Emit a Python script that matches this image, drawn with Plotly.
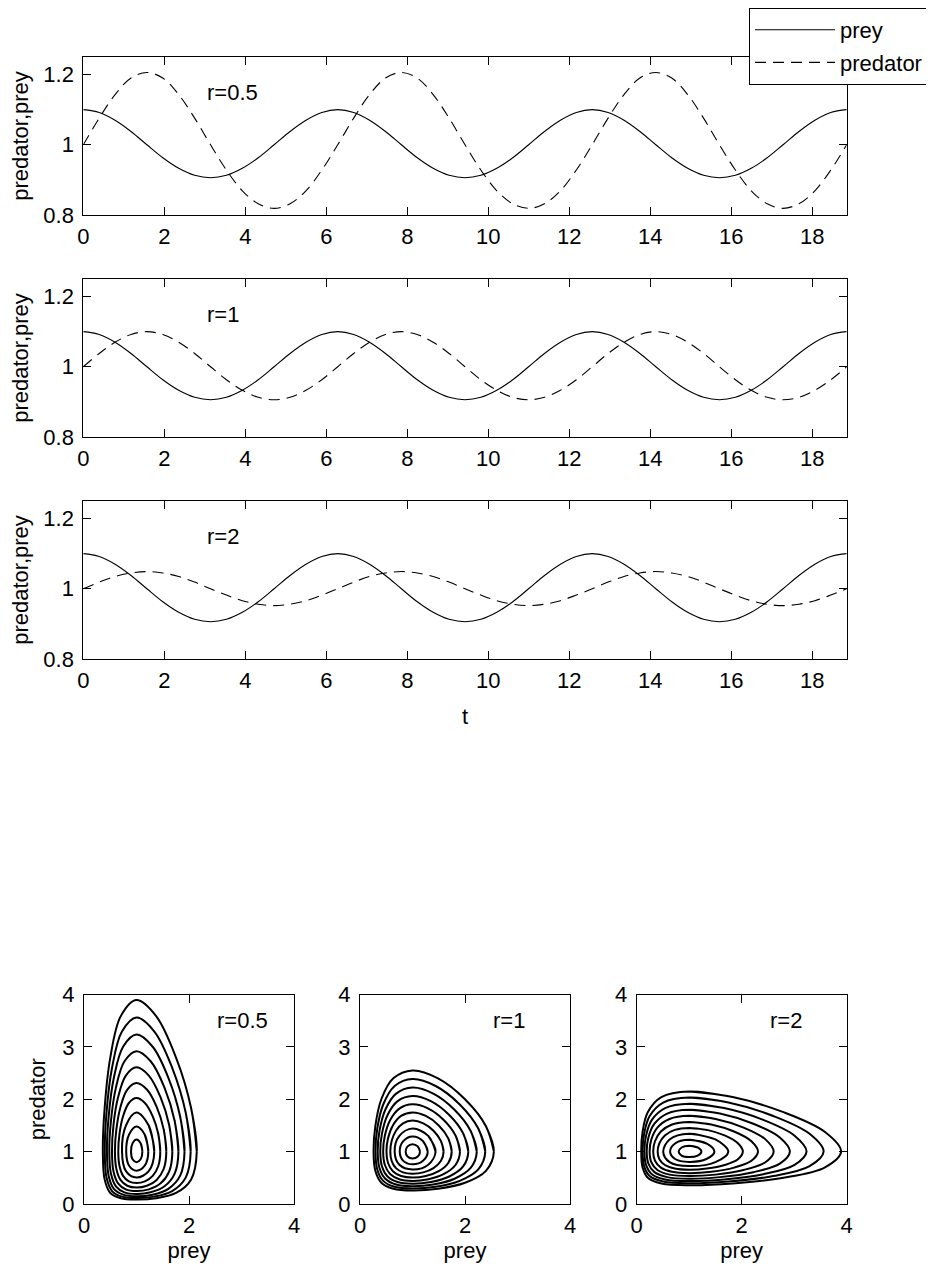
import plotly.graph_objects as go

# ---------------- time series ----------------
t = [0.000, 0.393, 0.785, 1.178, 1.571, 1.963, 2.356, 2.749, 3.142, 3.534, 3.927, 4.320,
     4.712, 5.105, 5.498, 5.890, 6.283, 6.676, 7.069, 7.461, 7.854, 8.247, 8.639, 9.032,
     9.425, 9.817, 10.210, 10.603, 10.996, 11.388, 11.781, 12.174, 12.566, 12.959, 13.352,
     13.744, 14.137, 14.530, 14.923, 15.315, 15.708, 16.101, 16.493, 16.886, 17.279,
     17.671, 18.064, 18.457, 18.850]

prey = [1.100, 1.092, 1.070, 1.038, 1.000, 0.963, 0.933, 0.913, 0.906, 0.913, 0.933, 0.963,
        1.000, 1.038, 1.070, 1.092, 1.100, 1.092, 1.070, 1.038, 1.000, 0.963, 0.933, 0.913,
        0.906, 0.913, 0.933, 0.963, 1.000, 1.038, 1.070, 1.092, 1.100, 1.092, 1.070, 1.038,
        1.000, 0.963, 0.933, 0.913, 0.906, 0.913, 0.933, 0.963, 1.000, 1.038, 1.070, 1.092,
        1.100]

predator_r05 = [1.000, 1.076, 1.143, 1.190, 1.206, 1.190, 1.143, 1.076, 1.000, 0.928, 0.869,
                0.832, 0.819, 0.832, 0.869, 0.928, 1.000, 1.076, 1.143, 1.190, 1.206, 1.190,
                1.143, 1.076, 1.000, 0.928, 0.869, 0.832, 0.819, 0.832, 0.869, 0.928, 1.000,
                1.076, 1.143, 1.190, 1.206, 1.190, 1.143, 1.076, 1.000, 0.928, 0.869, 0.832,
                0.819, 0.832, 0.869, 0.928, 1.000]

predator_r1 = [1.000, 1.038, 1.070, 1.092, 1.100, 1.092, 1.070, 1.038, 1.000, 0.963, 0.933,
               0.913, 0.906, 0.913, 0.933, 0.963, 1.000, 1.038, 1.070, 1.092, 1.100, 1.092,
               1.070, 1.038, 1.000, 0.963, 0.933, 0.913, 0.906, 0.913, 0.933, 0.963, 1.000,
               1.038, 1.070, 1.092, 1.100, 1.092, 1.070, 1.038, 1.000, 0.963, 0.933, 0.913,
               0.906, 0.913, 0.933, 0.963, 1.000]

predator_r2 = [1.000, 1.019, 1.035, 1.045, 1.049, 1.045, 1.035, 1.019, 1.000, 0.982, 0.966,
               0.956, 0.952, 0.956, 0.966, 0.982, 1.000, 1.019, 1.035, 1.045, 1.049, 1.045,
               1.035, 1.019, 1.000, 0.982, 0.966, 0.956, 0.952, 0.956, 0.966, 0.982, 1.000,
               1.019, 1.035, 1.045, 1.049, 1.045, 1.035, 1.019, 1.000, 0.982, 0.966, 0.956,
               0.952, 0.956, 0.966, 0.982, 1.000]

r_labels = ["r=0.5", "r=1", "r=2"]
time_ticks = [0, 2, 4, 6, 8, 10, 12, 14, 16, 18]
pop_ticks = [0.8, 1.0, 1.2]
pop_tick_text = ["0.8", "1", "1.2"]

# ---------------- phase-plane orbits ----------------
orbit_r05_prey = [
    [1.112, 1.079, 1.0, 0.925, 0.896, 0.925, 1.0, 1.079],
    [1.225, 1.156, 1.0, 0.859, 0.804, 0.859, 1.0, 1.156],
    [1.339, 1.233, 1.0, 0.799, 0.724, 0.799, 1.0, 1.233],
    [1.453, 1.415, 1.309, 1.160, 1.0, 0.855, 0.744, 0.676, 0.653, 0.676, 0.744, 0.855, 1.0, 1.160, 1.309, 1.415],
    [1.568, 1.519, 1.384, 1.198, 1.0, 0.825, 0.695, 0.616, 0.589, 0.616, 0.695, 0.825, 1.0, 1.198, 1.384, 1.519],
    [1.683, 1.623, 1.459, 1.234, 1.0, 0.797, 0.649, 0.561, 0.533, 0.561, 0.649, 0.797, 1.0, 1.234, 1.459, 1.623],
    [1.799, 1.727, 1.533, 1.270, 1.0, 0.771, 0.608, 0.513, 0.482, 0.513, 0.608, 0.771, 1.0, 1.270, 1.533, 1.727],
    [1.915, 1.832, 1.607, 1.305, 1.0, 0.747, 0.569, 0.469, 0.437, 0.469, 0.569, 0.747, 1.0, 1.305, 1.607, 1.832],
    [2.032, 1.937, 1.680, 1.340, 1.0, 0.723, 0.534, 0.429, 0.396, 0.429, 0.534, 0.723, 1.0, 1.340, 1.680, 1.937],
    [2.148, 2.041, 1.753, 1.374, 1.0, 0.701, 0.501, 0.393, 0.359, 0.393, 0.501, 0.701, 1.0, 1.374, 1.753, 2.041],
]
orbit_r05_pred = [
    [1.0, 1.161, 1.233, 1.161, 1.0, 0.855, 0.799, 0.855],
    [1.0, 1.328, 1.481, 1.328, 1.0, 0.731, 0.636, 0.731],
    [1.0, 1.499, 1.745, 1.499, 1.0, 0.627, 0.505, 0.627],
    [1.0, 1.337, 1.674, 1.928, 2.022, 1.928, 1.674, 1.337, 1.0, 0.725, 0.537, 0.432, 0.399, 0.432, 0.537, 0.725],
    [1.0, 1.420, 1.854, 2.185, 2.310, 2.185, 1.854, 1.420, 1.0, 0.673, 0.460, 0.348, 0.314, 0.348, 0.460, 0.673],
    [1.0, 1.502, 2.036, 2.452, 2.609, 2.452, 2.036, 1.502, 1.0, 0.625, 0.394, 0.279, 0.246, 0.279, 0.394, 0.625],
    [1.0, 1.584, 2.222, 2.726, 2.918, 2.726, 2.222, 1.584, 1.0, 0.581, 0.338, 0.223, 0.191, 0.223, 0.338, 0.581],
    [1.0, 1.665, 2.410, 3.007, 3.235, 3.007, 2.410, 1.665, 1.0, 0.541, 0.289, 0.178, 0.148, 0.178, 0.289, 0.541],
    [1.0, 1.747, 2.601, 3.293, 3.560, 3.293, 2.601, 1.747, 1.0, 0.504, 0.247, 0.141, 0.113, 0.141, 0.247, 0.504],
    [1.0, 1.828, 2.795, 3.587, 3.893, 3.587, 2.795, 1.828, 1.0, 0.470, 0.211, 0.111, 0.087, 0.111, 0.211, 0.470],
]

orbit_r1_prey = [
    [1.143, 1.1, 1.0, 0.906, 0.869, 0.906, 1.0, 1.1],
    [1.290, 1.2, 1.0, 0.824, 0.757, 0.824, 1.0, 1.2],
    [1.440, 1.3, 1.0, 0.750, 0.660, 0.750, 1.0, 1.3],
    [1.592, 1.540, 1.400, 1.206, 1.0, 0.819, 0.685, 0.604, 0.577, 0.604, 0.685, 0.819, 1.0, 1.206, 1.400, 1.540],
    [1.747, 1.681, 1.500, 1.254, 1.0, 0.783, 0.626, 0.534, 0.504, 0.534, 0.626, 0.783, 1.0, 1.254, 1.500, 1.681],
    [1.904, 1.822, 1.600, 1.302, 1.0, 0.749, 0.573, 0.473, 0.441, 0.473, 0.573, 0.749, 1.0, 1.302, 1.600, 1.822],
    [2.063, 1.965, 1.700, 1.349, 1.0, 0.717, 0.525, 0.419, 0.386, 0.419, 0.525, 0.717, 1.0, 1.349, 1.700, 1.965],
    [2.224, 2.108, 1.800, 1.395, 1.0, 0.688, 0.482, 0.371, 0.337, 0.371, 0.482, 0.688, 1.0, 1.395, 1.800, 2.108],
    [2.386, 2.253, 1.900, 1.441, 1.0, 0.660, 0.442, 0.329, 0.295, 0.329, 0.442, 0.660, 1.0, 1.441, 1.900, 2.253],
    [2.550, 2.399, 2.000, 1.486, 1.0, 0.634, 0.406, 0.292, 0.258, 0.292, 0.406, 0.634, 1.0, 1.486, 2.000, 2.399],
]
orbit_r1_pred = [
    [1.0, 1.1, 1.143, 1.1, 1.0, 0.906, 0.869, 0.906],
    [1.0, 1.2, 1.290, 1.2, 1.0, 0.824, 0.757, 0.824],
    [1.0, 1.3, 1.440, 1.3, 1.0, 0.750, 0.660, 0.750],
    [1.0, 1.206, 1.400, 1.540, 1.592, 1.540, 1.400, 1.206, 1.0, 0.819, 0.685, 0.604, 0.577, 0.604, 0.685, 0.819],
    [1.0, 1.254, 1.500, 1.681, 1.747, 1.681, 1.500, 1.254, 1.0, 0.783, 0.626, 0.534, 0.504, 0.534, 0.626, 0.783],
    [1.0, 1.302, 1.600, 1.822, 1.904, 1.822, 1.600, 1.302, 1.0, 0.749, 0.573, 0.473, 0.441, 0.473, 0.573, 0.749],
    [1.0, 1.349, 1.700, 1.965, 2.063, 1.965, 1.700, 1.349, 1.0, 0.717, 0.525, 0.419, 0.386, 0.419, 0.525, 0.717],
    [1.0, 1.395, 1.800, 2.108, 2.224, 2.108, 1.800, 1.395, 1.0, 0.688, 0.482, 0.371, 0.337, 0.371, 0.482, 0.688],
    [1.0, 1.441, 1.900, 2.253, 2.386, 2.253, 1.900, 1.441, 1.0, 0.660, 0.442, 0.329, 0.295, 0.329, 0.442, 0.660],
    [1.0, 1.486, 2.000, 2.399, 2.550, 2.399, 2.000, 1.486, 1.0, 0.634, 0.406, 0.292, 0.258, 0.292, 0.406, 0.634],
]

# r=2 orbits are the mirror image of the r=0.5 orbits (prey <-> predator)
orbit_r2_prey = orbit_r05_pred
orbit_r2_pred = orbit_r05_prey

phase_ticks_x = [0, 2, 4]
phase_ticks_y = [0, 1, 2, 3, 4]

# ---------------- layout geometry ----------------
# The page body has an 8px default margin, so the figure is drawn 8px in from the
# top-left corner of the window; positions below are window pixels minus that offset.
OFF = 8
W, H = 934 - OFF, 1270 - OFF
FONT = "Liberation Sans, Arial, Helvetica, sans-serif"
FS = 22


def px_x(a, b):
    return [(a - OFF) / W, (b - OFF) / W]


def px_y(top, bottom):
    return [1 - (bottom - OFF) / H, 1 - (top - OFF) / H]


time_xdom = px_x(83.3, 846.7)
time_ydoms = [px_y(57, 215), px_y(279, 437), px_y(501, 659)]
phase_xdoms = [px_x(84, 294), px_x(360, 570), px_x(636.7, 846.7)]
phase_ydom = px_y(994.5, 1204)

axis_common = dict(
    showline=True, linecolor="black", linewidth=1, mirror="ticks",
    ticks="inside", ticklen=8, tickcolor="black", tickwidth=1,
    showgrid=False, zeroline=False, automargin=False,
    tickfont=dict(family=FONT, size=FS, color="black"),
)

fig = go.Figure()
layout = dict(
    width=W, height=H,
    margin=dict(l=0, r=0, t=0, b=0, pad=0, autoexpand=False),
    paper_bgcolor="white", plot_bgcolor="white",
    font=dict(family=FONT, size=FS, color="black"),
    showlegend=True,
    legend=dict(
        x=(749 - OFF) / W, y=1 - (8 - OFF) / H, xanchor="left", yanchor="top",
        bordercolor="black", borderwidth=1, bgcolor="white",
        font=dict(family=FONT, size=FS, color="black"),
        itemwidth=80, tracegroupgap=1,
    ),
    annotations=[],
)

predators = [predator_r05, predator_r1, predator_r2]
for i in range(3):
    k = i + 1
    xa = "x" if k == 1 else f"x{k}"
    ya = "y" if k == 1 else f"y{k}"
    fig.add_trace(go.Scatter(
        x=t, y=prey, mode="lines", name="prey",
        line=dict(color="black", width=1.1, shape="spline"),
        xaxis=xa, yaxis=ya, showlegend=(i == 0), legendgroup="prey",
    ))
    fig.add_trace(go.Scatter(
        x=t, y=predators[i], mode="lines", name="predator",
        line=dict(color="black", width=1.1, dash="11px,7px", shape="spline"),
        xaxis=xa, yaxis=ya, showlegend=(i == 0), legendgroup="predator",
    ))
    xkey = "xaxis" if k == 1 else f"xaxis{k}"
    ykey = "yaxis" if k == 1 else f"yaxis{k}"
    layout[xkey] = dict(
        axis_common, domain=time_xdom, anchor=ya, range=[0, 18.85],
        tickvals=time_ticks, ticklabelstandoff=2,
        title=dict(text="t" if i == 2 else "", font=dict(family=FONT, size=FS), standoff=16),
    )
    layout[ykey] = dict(
        axis_common, domain=time_ydoms[i], anchor=xa, range=[0.8, 1.25],
        tickvals=pop_ticks, ticktext=pop_tick_text, ticklabelstandoff=4,
        title=dict(text="predator,prey", font=dict(family=FONT, size=FS), standoff=8),
    )
    layout["annotations"].append(dict(
        x=3.0, y=1.15, xref=xa, yref=ya, text=r_labels[i], showarrow=False,
        xanchor="left", yanchor="middle", font=dict(family=FONT, size=FS, color="black"),
    ))

orbit_sets = [(orbit_r05_prey, orbit_r05_pred), (orbit_r1_prey, orbit_r1_pred),
              (orbit_r2_prey, orbit_r2_pred)]
for j, (ox, oy) in enumerate(orbit_sets):
    k = j + 4
    xa, ya = f"x{k}", f"y{k}"
    xs, ys = [], []
    for cx, cy in zip(ox, oy):
        # close each orbit (wrap around two points so the spline joins smoothly)
        xs += list(cx) + list(cx[:2]) + [None]
        ys += list(cy) + list(cy[:2]) + [None]
    fig.add_trace(go.Scatter(
        x=xs, y=ys, mode="lines", showlegend=False, name=r_labels[j],
        line=dict(color="black", width=2, shape="spline", smoothing=1),
        xaxis=xa, yaxis=ya, connectgaps=False,
    ))
    layout[f"xaxis{k}"] = dict(
        axis_common, domain=phase_xdoms[j], anchor=ya, range=[0, 4],
        tickvals=phase_ticks_x, ticklabelstandoff=2,
        title=dict(text="prey", font=dict(family=FONT, size=FS), standoff=3),
    )
    layout[f"yaxis{k}"] = dict(
        axis_common, domain=phase_ydom, anchor=xa, range=[0, 4],
        tickvals=phase_ticks_y, ticklabelstandoff=4,
        title=dict(text="predator" if j == 0 else "", font=dict(family=FONT, size=FS), standoff=10),
    )
    layout["annotations"].append(dict(
        x=2.5, y=3.5, xref=xa, yref=ya, text=r_labels[j], showarrow=False,
        xanchor="left", yanchor="middle", font=dict(family=FONT, size=FS, color="black"),
    ))

fig.update_layout(**layout)
fig.write_html("out.html")
